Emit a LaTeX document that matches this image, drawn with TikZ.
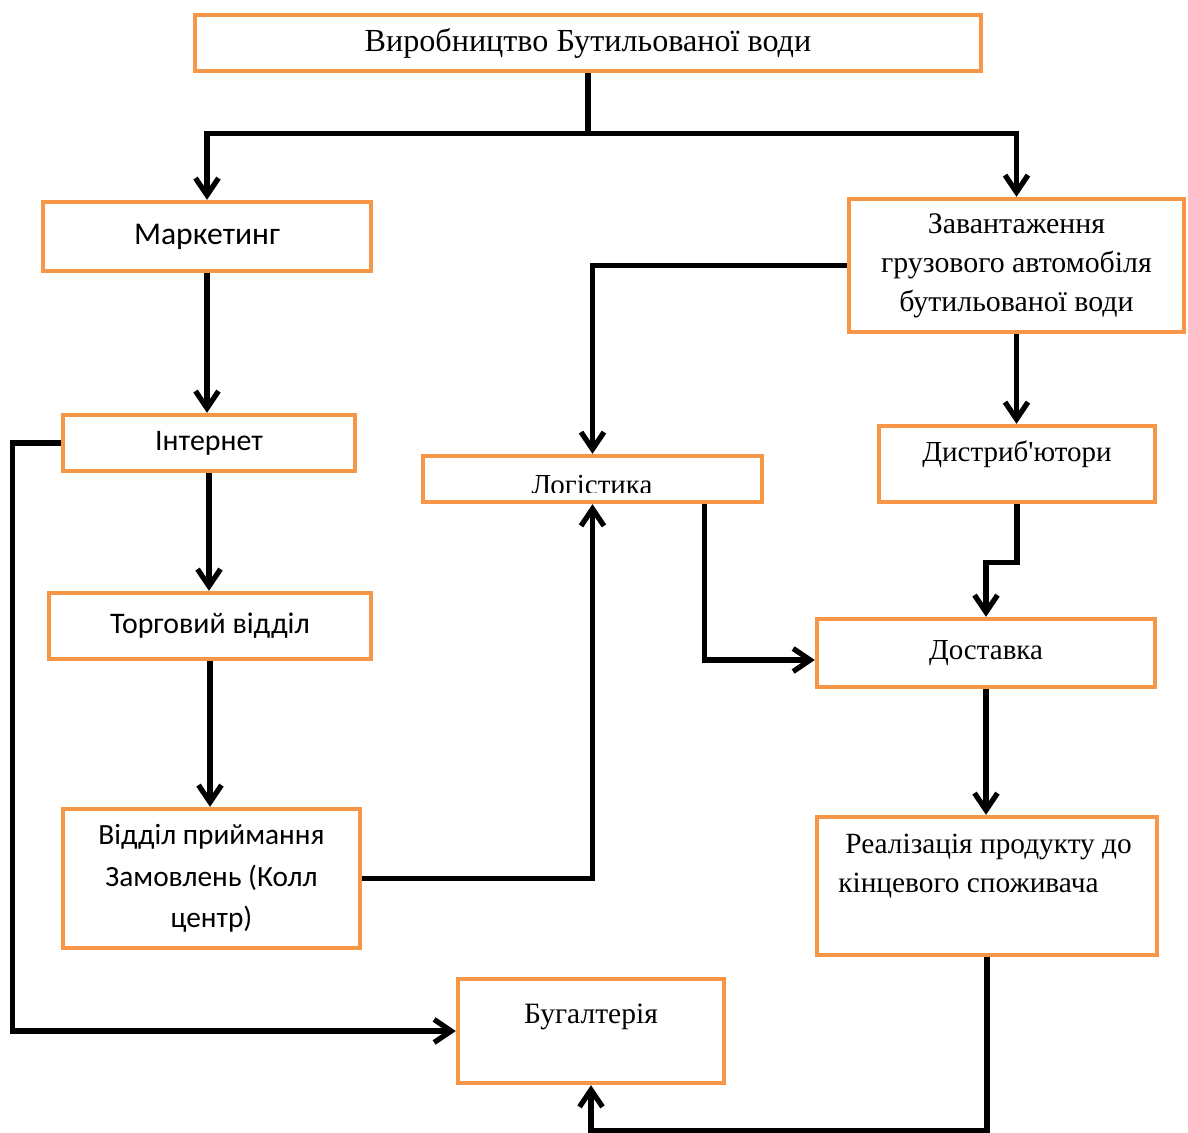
\documentclass[tikz,border=0pt]{standalone}
\usepackage{fontspec}
\setmainfont{Liberation Serif}
\newfontfamily\plainserif{Liberation Serif}
\newfontfamily\calibri{Carlito}
\usetikzlibrary{arrows.meta,calc}
\definecolor{boxorange}{HTML}{F79646}
\tikzset{
    box/.style={draw=boxorange, line width=2.5pt, inner sep=0pt, align=center,
                font=\fontsize{16.5}{22}\selectfont},
    sansbox/.style={box, font=\calibri\fontsize{17}{23.5}\selectfont},
    txt/.style={inner sep=0pt, font=\fontsize{16.5}{22}\selectfont},
    wire/.style={draw, line width=3pt},
    flow/.style={wire, -{Straight Barb[length=3.4mm,width=4.6mm]}}
}

\begin{document}
\begin{tikzpicture}[x=0.02cm, y=-0.02cm]
  \useasboundingbox (0,0) rectangle (1188,1133);

  % boxes
  \node[box, minimum width=15.72cm, minimum height=1.12cm, font=\fontsize{18.3}{22}\selectfont]
        (prod) at (588,43) {Виробництво Бутильованої води};
  \node[sansbox, minimum width=6.56cm, minimum height=1.38cm, font=\calibri\fontsize{18}{23.5}\selectfont]
        (mark) at (207,236.5) {Маркетинг};
  \node[sansbox, minimum width=5.84cm, minimum height=1.12cm] (inet) at (209,443) {Інтернет};
  \node[sansbox, minimum width=6.44cm, minimum height=1.32cm] (torg) at (210,626) {Торговий відділ};
  \node[sansbox, minimum width=5.94cm, minimum height=2.78cm, font=\calibri\fontsize{16.7}{23.5}\selectfont]
        (calls) at (211.5,878.5) {Відділ приймання\\Замовлень (Колл\\центр)};
  \node[box, minimum width=6.70cm, minimum height=2.66cm, font=\fontsize{17}{22.2}\selectfont]
        (load) at (1016.5,265.5) {Завантаження\\грузового автомобіля\\бутильованої води};
  \node[box, minimum width=5.52cm, minimum height=1.52cm] (dist) at (1017,464) {};
  \node[txt] (dist-t) at (1017,454) {Дистриб{\plainserif'}ютори};
  \node[box, minimum width=6.78cm, minimum height=0.92cm] (log) at (592.5,479) {};
  \begin{scope}
    \clip (421,454) rectangle (764,492.5);
    \node[txt, anchor=base] (log-t) at (592,494) {Логістика};
  \end{scope}
  \node[box, minimum width=6.76cm, minimum height=1.36cm] (dost) at (986,653) {Доставка};
  \node[box, minimum width=6.80cm, minimum height=2.76cm] (real) at (987,886) {};
  \node[txt, anchor=west, align=left, font=\fontsize{16.7}{22}\selectfont] (real-t) at (838,866)
        {\hspace*{4pt}Реалізація продукту до\\кінцевого споживача};
  \node[box, minimum width=5.32cm, minimum height=2.08cm] (buh) at (591,1031) {};
  \node[txt, font=\fontsize{16.8}{22}\selectfont] (buh-t) at (591,1017) {Бугалтерія};

  % connectors
  \draw[wire] (prod.south) -- ++(0,60) coordinate (split);
  \draw[flow] (split) -| (mark.north);
  \draw[flow] (split) -| (load.north);
  \draw[flow] (mark.south) -- (mark.south |- inet.north);
  \draw[flow] (inet.south) -- (inet.south |- torg.north);
  \draw[flow] (torg.south) -- (torg.south |- calls.north);
  \draw[flow] (inet.west) -- ++(-48,0) |- (buh.west);
  \draw[flow] (calls.east) -| (log.south);
  \draw[flow] (load.west) -| (log.north);
  \draw[flow] ($(log.south)+(112,0)$) |- ($(dost.west)+(0,7)$);
  \draw[flow] (load.south) -- (load.south |- dist.north);
  \draw[flow] (dist.south) -- ++(0,58) -| (dost.north);
  \draw[flow] (dost.south) -- (dost.south |- real.north);
  \draw[flow] (real.south) -- ++(0,173) -| (buh.south);

\end{tikzpicture}
\end{document}
